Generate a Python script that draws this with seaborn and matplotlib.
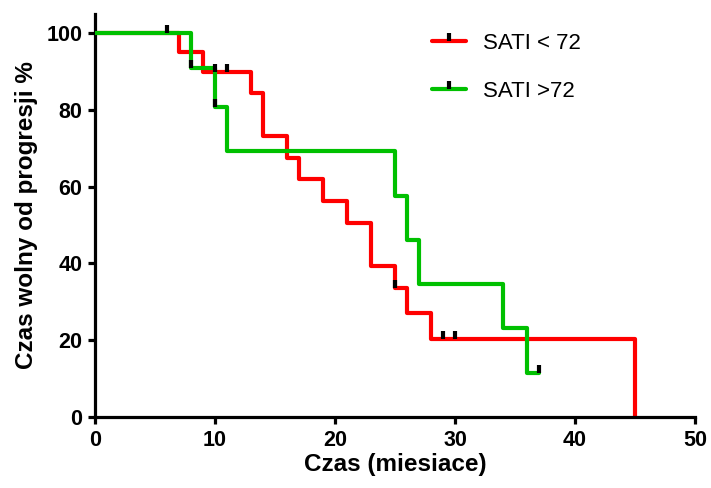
import matplotlib
matplotlib.use("Agg")
import matplotlib.pyplot as plt
from matplotlib.lines import Line2D
import seaborn as sns

# Kaplan-Meier steps
czas_niski = [0, 7, 9, 13, 14, 16, 17, 19, 21, 23, 25, 26, 28, 45]
przezycie_niski = [100, 95, 90, 84.4, 73.1, 67.5, 61.9, 56.2, 50.6, 39.4, 33.7, 27.0, 20.2, 0]
cenzura_czas_niski = [10, 11, 25, 29, 30]
cenzura_poziom_niski = [90, 90, 33.7, 20.2, 20.2]

czas_wysoki = [0, 8, 10, 11, 25, 26, 27, 34, 36, 37]
przezycie_wysoki = [100, 90.9, 80.8, 69.3, 57.7, 46.2, 34.6, 23.1, 11.5, 11.5]
cenzura_czas_wysoki = [6, 8, 10, 37]
cenzura_poziom_wysoki = [100, 90.9, 80.8, 11.5]

etykiety = ["SATI < 72", "SATI >72"]
kolory = ["#FF0000", "#00C000"]

sns.set_style("ticks")
plt.rcParams["font.family"] = ["Liberation Sans", "DejaVu Sans"]
for k in ["text.color", "axes.labelcolor", "xtick.color", "ytick.color", "axes.edgecolor"]:
    plt.rcParams[k] = "black"

fig = plt.figure(figsize=(7.11, 4.88), dpi=100)
ax = fig.add_axes([95 / 711, 1 - 417 / 488, 600 / 711, 403 / 488])

# vertical tick used for censored observations, sits on top of the curve
znak = [(0, 0), (0, 1)]

sns.lineplot(x=czas_niski, y=przezycie_niski, drawstyle="steps-post",
             color=kolory[0], lw=3, ax=ax, zorder=2)
sns.lineplot(x=czas_wysoki, y=przezycie_wysoki, drawstyle="steps-post",
             color=kolory[1], lw=3, ax=ax, zorder=3)
ax.plot(cenzura_czas_niski, cenzura_poziom_niski, ls="none", marker=znak,
        ms=12, mec="black", mew=3, zorder=4)
ax.plot(cenzura_czas_wysoki, cenzura_poziom_wysoki, ls="none", marker=znak,
        ms=12, mec="black", mew=3, zorder=4)

ax.set_xlim(0, 50)
ax.set_ylim(0, 105)
ax.set_xticks([0, 10, 20, 30, 40, 50])
ax.set_yticks([0, 20, 40, 60, 80, 100])
sns.despine(ax=ax)
for s in ["left", "bottom"]:
    ax.spines[s].set_linewidth(2.3)
ax.tick_params(length=5, width=2.3, labelsize=15.5, pad=4)
for t in ax.get_xticklabels() + ax.get_yticklabels():
    t.set_fontweight("bold")

ax.set_xlabel("Czas (miesiace)", fontsize=17.5, fontweight="bold", labelpad=2)
ax.set_ylabel("Czas wolny od progresji %", fontsize=17.5, fontweight="bold", labelpad=6)

uchwyty = [Line2D([], [], color=k, lw=3, marker=znak, ms=12, mec="black", mew=3)
           for k in kolory]
ax.legend(uchwyty, etykiety, loc="upper left", bbox_to_anchor=(0.562, 0.953),
          frameon=False, fontsize=16, handlelength=1.5, handletextpad=0.8,
          labelspacing=1.2, borderpad=0, borderaxespad=0, numpoints=1)

fig.savefig("out.png", dpi=100)
